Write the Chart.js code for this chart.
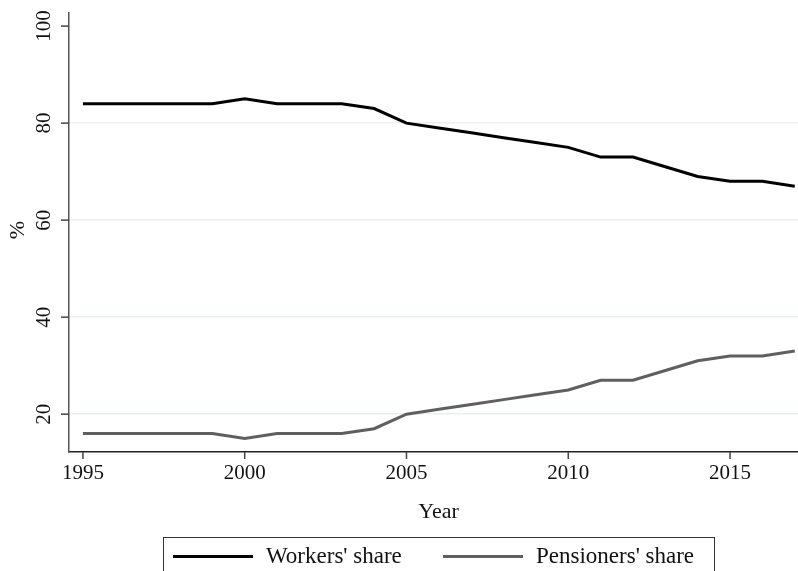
<!DOCTYPE html>
<html>
<head>
<meta charset="utf-8">
<script src="https://cdn.jsdelivr.net/npm/chart.js@4/dist/chart.umd.min.js"></script>
<style>
  html, body { margin: 0; padding: 0; background: #fff; }
  #wrap { position: relative; width: 798px; height: 571px; overflow: hidden; }
  #legend {
    position: absolute; left: 163px; top: 537px; width: 552px; height: 44px;
    border: 1px solid #333; box-sizing: border-box;
    font-family: "Liberation Serif", serif; font-size: 23px; color: #111;
  }
  .item { position: absolute; top: 5px; display: flex; align-items: center; white-space: nowrap; }
  .swatch { display: inline-block; width: 80px; height: 3px; margin-right: 13px; }
</style>
</head>
<body>
<div id="wrap">
  <canvas id="c" width="798" height="571"></canvas>
  <div id="legend"></div>
</div>
<script>
const years = [1995,1996,1997,1998,1999,2000,2001,2002,2003,2004,2005,2006,2007,2008,2009,2010,2011,2012,2013,2014,2015,2016,2017];
const workersShare = [84,84,84,84,84,85,84,84,84,83,80,79,78,77,76,75,73,73,71,69,68,68,67];
const pensionersShare = [16,16,16,16,16,15,16,16,16,17,20,21,22,23,24,25,27,27,29,31,32,32,33];
const xTicks = [1995,2000,2005,2010,2015];
const yTicks = [20,40,60,80,100];
const seriesNames = ["Workers' share", "Pensioners' share"];
const seriesColors = ["#000000", "#5f5f5f"];
const xTitle = "Year";
const yTitle = "%";

const NUMFONT = '21px "Liberation Serif", serif';
const TITLEFONT = '22px "Liberation Serif", serif';

const axisPlugin = {
  id: 'stataAxes',
  afterDraw(chart) {
    const ctx = chart.ctx;
    const xs = chart.scales.x, ys = chart.scales.y;
    const area = chart.chartArea;
    ctx.save();
    ctx.font = NUMFONT;
    ctx.fillStyle = '#111';
    ctx.strokeStyle = '#444';
    ctx.lineWidth = 1.5;
    // x ticks
    xTicks.forEach(v => {
      const px = xs.getPixelForValue(v);
      ctx.beginPath(); ctx.moveTo(px, area.bottom); ctx.lineTo(px, area.bottom + 7); ctx.stroke();
      ctx.textAlign = 'center'; ctx.textBaseline = 'middle';
      ctx.fillText(String(v), px, area.bottom + 21);
    });
    // y ticks
    yTicks.forEach(v => {
      const py = ys.getPixelForValue(v);
      ctx.beginPath(); ctx.moveTo(area.left, py); ctx.lineTo(area.left - 8, py); ctx.stroke();
      ctx.save();
      ctx.translate(area.left - 25, py);
      ctx.rotate(-Math.PI / 2);
      ctx.textAlign = 'center'; ctx.textBaseline = 'middle';
      ctx.fillText(String(v), 0, 0);
      ctx.restore();
    });
    // titles
    ctx.font = TITLEFONT;
    ctx.textAlign = 'center'; ctx.textBaseline = 'middle';
    ctx.fillText(xTitle, (area.left + area.right) / 2 + 5, 512);
    ctx.save();
    ctx.translate(18, 230);
    ctx.rotate(-Math.PI / 2);
    ctx.fillText(yTitle, 0, 0);
    ctx.restore();
    ctx.restore();
  }
};

new Chart(document.getElementById('c'), {
  type: 'line',
  data: {
    datasets: [
      { label: seriesNames[0], data: years.map((y, i) => ({x: y, y: workersShare[i]})), borderColor: seriesColors[0], borderWidth: 3, pointRadius: 0, tension: 0, fill: false },
      { label: seriesNames[1], data: years.map((y, i) => ({x: y, y: pensionersShare[i]})), borderColor: seriesColors[1], borderWidth: 3, pointRadius: 0, tension: 0, fill: false }
    ]
  },
  options: {
    responsive: false,
    animation: false,
    devicePixelRatio: 1,
    layout: { padding: { left: 69, top: 13, right: 0, bottom: 119 } },
    plugins: { legend: { display: false }, tooltip: { enabled: false } },
    scales: {
      x: {
        type: 'linear', min: 1994.57, max: 2017.1,
        afterBuildTicks: s => { s.ticks = xTicks.map(v => ({value: v})); },
        ticks: { display: false },
        grid: { display: false, drawTicks: false },
        border: { display: true, color: '#222', width: 1.5 }
      },
      y: {
        type: 'linear', min: 12.2, max: 102.7,
        afterBuildTicks: s => { s.ticks = yTicks.map(v => ({value: v})); },
        ticks: { display: false },
        grid: { drawTicks: false, lineWidth: 1.5, color: ctx => (ctx.tick && ctx.tick.value === 100) ? 'rgba(0,0,0,0)' : '#eaf0f2' },
        border: { display: true, color: '#555', width: 1.5 }
      }
    }
  },
  plugins: [axisPlugin]
});

const legend = document.getElementById('legend');
const lefts = [9, 279];
seriesNames.forEach((name, i) => {
  const it = document.createElement('div');
  it.className = 'item';
  it.style.left = lefts[i] + 'px';
  const sw = document.createElement('span');
  sw.className = 'swatch';
  sw.style.background = seriesColors[i];
  const tx = document.createElement('span');
  tx.textContent = name;
  it.appendChild(sw); it.appendChild(tx);
  legend.appendChild(it);
});
</script>
</body>
</html>
